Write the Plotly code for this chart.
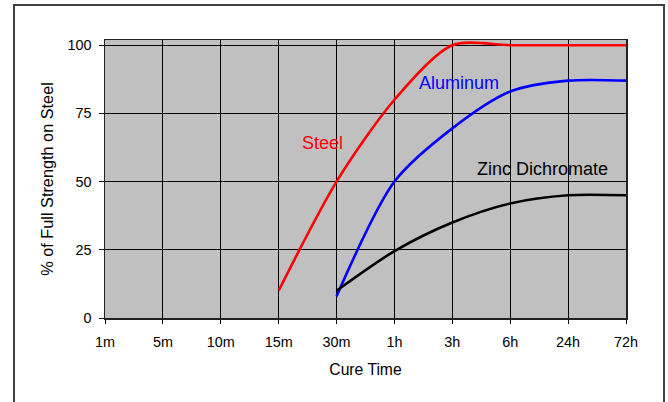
import plotly.graph_objects as go

categories = ["1m", "5m", "10m", "15m", "30m", "1h", "3h", "6h", "24h", "72h"]
steel_x = ["15m", "30m", "1h", "3h", "6h", "24h", "72h"]
steel_y = [10, 50, 80, 100, 100, 100, 100]
alum_x = ["30m", "1h", "3h", "6h", "24h", "72h"]
alum_y = [8, 50, 69.5, 83, 87, 87]
zinc_x = ["30m", "1h", "3h", "6h", "24h", "72h"]
zinc_y = [10, 24.5, 35, 42, 45, 45]
y_ticks = [0, 25, 50, 75, 100]

fig = go.Figure()
for xs, ys, col in [(steel_x, steel_y, "#FF0000"), (alum_x, alum_y, "#0000FF"), (zinc_x, zinc_y, "#000000")]:
    fig.add_trace(go.Scatter(x=xs, y=ys, mode="lines",
                             line=dict(color=col, width=2.6, shape="spline", smoothing=0.8),
                             showlegend=False, hoverinfo="skip"))

font = "Liberation Sans, Arial, sans-serif"
PW, PH = 521, 278
fig.update_layout(
    width=668, height=402,
    margin=dict(l=105, r=42, t=40, b=84),
    paper_bgcolor="white", plot_bgcolor="#C0C0C0",
    font=dict(family=font, size=14, color="black"),
    xaxis=dict(type="category", categoryorder="array", categoryarray=categories,
               tickmode="array", tickvals=categories, ticktext=categories,
               range=[0, 9], showgrid=True, gridcolor="black", gridwidth=1,
               showline=True, linecolor="#222222", linewidth=1.5, mirror=True,
               ticks="outside", ticklen=4, tickcolor="black", ticklabelstandoff=6,
               tickfont=dict(size=14.4), zeroline=False,
               title=dict(text="Cure Time", font=dict(size=15.7), standoff=15)),
    yaxis=dict(range=[0, 101.9], tickvals=y_ticks, showgrid=True, gridcolor="black", gridwidth=1,
               showline=True, linecolor="#222222", linewidth=1.5, mirror=True,
               ticks="outside", ticklen=5, tickcolor="black", zeroline=False,
               ticklabelstandoff=4, tickfont=dict(size=14.4),
               title=dict(text="% of Full Strength on Steel", font=dict(size=16.3), standoff=10)),
    annotations=[
        dict(x=3.76, y=64.1, xref="x", yref="y", text="Steel", showarrow=False,
             font=dict(color="#FF0000", size=18)),
        dict(x=6.11, y=86.3, xref="x", yref="y", text="Aluminum", showarrow=False,
             font=dict(color="#0000FF", size=18)),
        dict(x=7.56, y=54.5, xref="x", yref="y", text="Zinc Dichromate", showarrow=False,
             font=dict(color="#000000", size=18)),
    ],
    shapes=[dict(type="rect", xref="paper", yref="paper",
                 x0=(14 - 105) / PW, x1=(664 - 105) / PW, y0=-0.5, y1=(318 - 5) / PH,
                 line=dict(color="#404040", width=2), fillcolor="rgba(0,0,0,0)", layer="below")],
)

fig.write_html("out.html", config={"displayModeBar": False, "staticPlot": True},
               post_script="document.body.style.margin='0';document.body.style.overflow='hidden';")
